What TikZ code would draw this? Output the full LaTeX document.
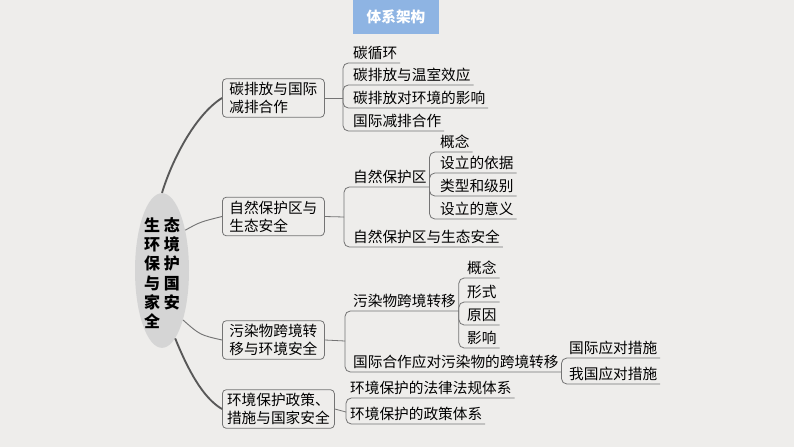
\documentclass[tikz,border=0pt]{standalone}
\usepackage{fontspec}
\setmainfont{Noto Sans CJK SC}
\usepackage{tikz}
\usetikzlibrary{shapes.geometric,positioning}
\definecolor{paper}{HTML}{EEEDEB}
\definecolor{titleblue}{HTML}{8EB4E3}
\definecolor{ovalgray}{HTML}{D5D5D5}
\definecolor{linegray}{HTML}{747474}
\definecolor{trunkgray}{HTML}{585858}
\tikzset{
 titlebox/.style={fill=titleblue,text=white,font=\fontsize{11}{13}\selectfont\bfseries,minimum width=64.5pt,minimum height=25.5pt,inner sep=0pt},
 hubshape/.style={ellipse,fill=ovalgray,minimum width=40.5pt,minimum height=116pt,inner sep=0pt},
 hubtext/.style={align=left,font=\fontsize{12}{14.5}\selectfont\bfseries,inner sep=0pt},
 topic/.style={draw=linegray,line width=0.6pt,rounded corners=3pt,anchor=west,align=left,minimum width=76.5pt,minimum height=29pt,inner xsep=3.5pt,inner ysep=2pt,font=\fontsize{11}{13.5}\selectfont},
 leaf/.style={anchor=south west,inner xsep=2pt,inner ysep=1pt,text height=9pt,text depth=2pt,font=\fontsize{11}{13}\selectfont},
 twig/.style={draw=linegray,line width=0.6pt,rounded corners=4pt},
 trunk/.style={draw=trunkgray,line width=1.4pt},
 limb/.style={draw=linegray,line width=0.7pt}
}
\begin{document}
\begin{tikzpicture}[x=0.75pt,y=-0.75pt]
 \fill[paper] (0,0) rectangle (794,447);
 \useasboundingbox (0,0) rectangle (794,447);

 \node[titlebox] (title) at (396,17) {体系架构};

 \node[hubshape] (hub) at (162,270.5) {};
 \node[hubtext] (hubtext) at (162,273) {生 态\\环 境\\保 护\\与 国\\家 安\\全};

 \node[topic] (carbon) at (222,98) {碳排放与国际\\减排合作};
 \node[topic] (nature) at (222,216.5) {自然保护区与\\生态安全};
 \node[topic] (pollute) at (222,340) {污染物跨境转\\移与环境安全};
 \node[topic] (policy) at (222,409) {环境保护政策、\\措施与国家安全};

 \draw[trunk] (hub.north) .. controls (172,160) and (195,115) .. (carbon.west);
 \draw[limb] (hub.60) .. controls (200,222) .. (nature.west);
 \draw[limb] (hub.-67) .. controls (200,335) .. (pollute.west);
 \draw[trunk] (hub.-79) .. controls (188,370) and (203,398) .. (policy.west);

 \node[leaf] (carbA) at (350.3,63) {碳循环};
 \node[leaf] (carbB) at (350.3,85) {碳排放与温室效应};
 \node[leaf] (carbC) at (350.3,108) {碳排放对环境的影响};
 \node[leaf] (carbD) at (350.3,131) {国际减排合作};

 \node[leaf] (natA) at (350.3,187) {自然保护区};
 \node[leaf] (natB) at (350.3,247) {自然保护区与生态安全};
 \node[leaf] (natA1) at (437.3,152) {概念};
 \node[leaf] (natA2) at (437.3,173) {设立的依据};
 \node[leaf] (natA3) at (437.3,196) {类型和级别};
 \node[leaf] (natA4) at (437.3,219) {设立的意义};

 \node[leaf] (polA) at (350.3,311) {污染物跨境转移};
 \node[leaf] (polB) at (350.3,372) {国际合作应对污染物的跨境转移};
 \node[leaf] (polA1) at (464.3,278) {概念};
 \node[leaf] (polA2) at (464.3,302) {形式};
 \node[leaf] (polA3) at (464.3,325) {原因};
 \node[leaf] (polA4) at (464.3,348) {影响};
 \node[leaf] (polB1) at (566.3,358) {国际应对措施};
 \node[leaf] (polB2) at (566.3,384) {我国应对措施};

 \node[leaf] (polyA) at (347.3,398) {环境保护的法律法规体系};
 \node[leaf] (polyB) at (347.3,424) {环境保护的政策体系};

 \coordinate (carbfork) at (343,98);
 \coordinate (natfork) at (344,217);
 \coordinate (polfork) at (345,341);
 \coordinate (polyfork) at (346,412);

 \draw[twig] (carbon.east) -- (carbfork);
 \draw[twig] (nature.east) -- (natfork);
 \draw[twig] (pollute.east) -- (polfork);
 \draw[twig] (policy.east) -- (polyfork);

 \foreach \l in {carbA,carbB,carbC,carbD} \draw[twig] (carbfork) |- (\l.south east);
 \foreach \l in {natA,natB} \draw[twig] (natfork) |- (\l.south east);
 \foreach \l in {natA1,natA2,natA3,natA4} \draw[twig] (natA.south east) |- (\l.south east);
 \foreach \l in {polA,polB} \draw[twig] (polfork) |- (\l.south east);
 \foreach \l in {polA1,polA2,polA3,polA4} \draw[twig] (polA.south east) |- (\l.south east);
 \foreach \l in {polB1,polB2} \draw[twig] (polB.south east) |- (\l.south east);
 \foreach \l in {polyA,polyB} \draw[twig] (polyfork) |- (\l.south east);
\end{tikzpicture}
\end{document}
